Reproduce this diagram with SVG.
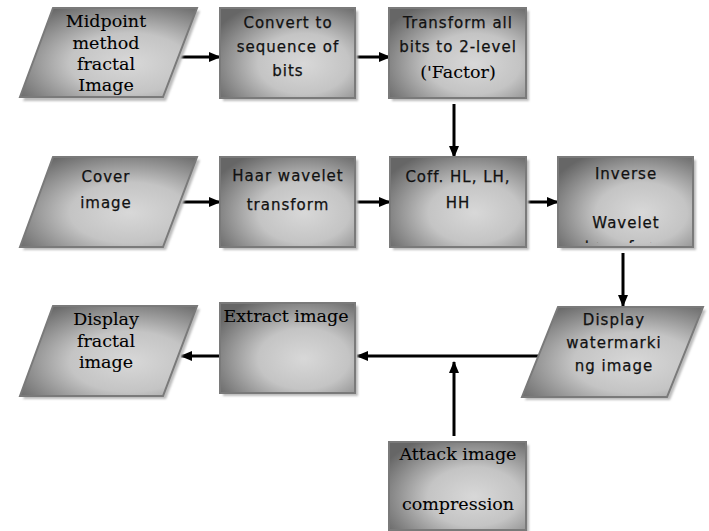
<svg xmlns="http://www.w3.org/2000/svg" width="709" height="531" viewBox="0 0 709 531">
  <defs>
    <radialGradient id="shade" cx="0.62" cy="0.62" r="0.75">
      <stop offset="0" stop-color="#d8d8d8"/>
      <stop offset="0.45" stop-color="#c4c4c4"/>
      <stop offset="1" stop-color="#666666"/>
    </radialGradient>
    <filter id="soft" x="-10%" y="-10%" width="130%" height="130%">
      <feGaussianBlur stdDeviation="1.2"/>
    </filter>
    <marker id="arrow" viewBox="0 0 12 10" refX="11" refY="5" markerWidth="12" markerHeight="10" markerUnits="userSpaceOnUse" orient="auto">
      <path d="M0,0 L12,5 L0,10 Z" fill="#000"/>
    </marker>
    <clipPath id="clipInverse">
      <rect x="558" y="157" width="135" height="86"/>
    </clipPath>
  </defs>
  <style>
    .shadow { fill: #bcbcbc; filter: url(#soft); }
    .shape { fill: url(#shade); stroke: #7a7a7a; stroke-width: 2; }
    .sans { font-family: "DejaVu Sans", "Liberation Sans", sans-serif; font-size: 15px; letter-spacing: 1px; fill: #111; stroke: #111; stroke-width: 0.25; text-anchor: middle; }
    .serif { font-family: "DejaVu Serif", "Liberation Serif", serif; font-size: 17.5px; fill: #000; stroke: #000; stroke-width: 0.1; text-anchor: middle; }
    .link { stroke: #000; stroke-width: 3; fill: none; marker-end: url(#arrow); }
  </style>

  <rect width="709" height="531" fill="#ffffff"/>

  <!-- connectors -->
  <g id="connectors">
    <line class="link" x1="180" y1="57" x2="220" y2="57"/>
    <line class="link" x1="355" y1="57" x2="390" y2="57"/>
    <line class="link" x1="454" y1="104" x2="454" y2="157"/>
    <line class="link" x1="180" y1="202" x2="220" y2="202"/>
    <line class="link" x1="355" y1="202" x2="390" y2="202"/>
    <line class="link" x1="526" y1="202" x2="558" y2="202"/>
    <line class="link" x1="623" y1="253" x2="623" y2="306"/>
    <line class="link" x1="538" y1="356" x2="357" y2="356"/>
    <line class="link" x1="220" y1="356" x2="181" y2="356"/>
    <line class="link" x1="454" y1="436" x2="454" y2="362"/>
  </g>

  <!-- row 1 -->
  <g id="midpoint-fractal">
    <polygon class="shadow" points="56,11 200,11 166,101 23,101"/>
    <polygon class="shape" points="53,8 197,8 163,97 20,97"/>
    <text class="serif" x="106" y="27">Midpoint</text>
    <text class="serif" x="106" y="49">method</text>
    <text class="serif" x="106" y="70">fractal</text>
    <text class="serif" x="106" y="91">Image</text>
  </g>

  <g id="convert-bits">
    <rect class="shadow" x="223" y="11" width="135" height="90"/>
    <rect class="shape" x="220" y="8" width="135" height="90"/>
    <text class="sans" x="288" y="28">Convert to</text>
    <text class="sans" x="288" y="52">sequence of</text>
    <text class="sans" x="288" y="76">bits</text>
  </g>

  <g id="transform-bits">
    <rect class="shadow" x="392" y="11" width="137" height="90"/>
    <rect class="shape" x="389" y="8" width="137" height="90"/>
    <text class="sans" x="458" y="28">Transform all</text>
    <text class="sans" x="458" y="52">bits to 2-level</text>
    <text class="serif" x="458" y="78">('Factor)</text>
  </g>

  <!-- row 2 -->
  <g id="cover-image">
    <polygon class="shadow" points="56,160 200,160 166,250 23,250"/>
    <polygon class="shape" points="53,157 197,157 163,247 20,247"/>
    <text class="sans" x="106" y="182">Cover</text>
    <text class="sans" x="106" y="208">image</text>
  </g>

  <g id="haar-wavelet">
    <rect class="shadow" x="223" y="160" width="135" height="90"/>
    <rect class="shape" x="220" y="157" width="135" height="90"/>
    <text class="sans" x="288" y="181">Haar wavelet</text>
    <text class="sans" x="288" y="210">transform</text>
  </g>

  <g id="coefficients">
    <rect class="shadow" x="393" y="160" width="136" height="90"/>
    <rect class="shape" x="390" y="157" width="136" height="90"/>
    <text class="sans" x="458" y="182">Coff. HL, LH,</text>
    <text class="sans" x="458" y="208">HH</text>
  </g>

  <g id="inverse-wavelet">
    <rect class="shadow" x="561" y="160" width="135" height="90"/>
    <rect class="shape" x="558" y="157" width="135" height="90"/>
    <text class="sans" x="626" y="179">Inverse</text>
    <text class="sans" x="626" y="228">Wavelet</text>
    <text class="sans" x="626" y="252" clip-path="url(#clipInverse)">transform</text>
  </g>

  <!-- row 3 -->
  <g id="display-fractal">
    <polygon class="shadow" points="56,309 200,309 166,399 23,399"/>
    <polygon class="shape" points="53,306 197,306 163,396 20,396"/>
    <text class="serif" x="106" y="325">Display</text>
    <text class="serif" x="106" y="347">fractal</text>
    <text class="serif" x="106" y="368">image</text>
  </g>

  <g id="extract-image">
    <rect class="shadow" x="223" y="306" width="135" height="90"/>
    <rect class="shape" x="220" y="303" width="135" height="90"/>
    <text class="serif" x="286" y="322">Extract image</text>
  </g>

  <g id="display-watermarking">
    <polygon class="shadow" points="561,310 706,310 670,400 525,400"/>
    <polygon class="shape" points="558,307 703,307 667,397 522,397"/>
    <text class="sans" x="614" y="325">Display</text>
    <text class="sans" x="614" y="348">watermarki</text>
    <text class="sans" x="614" y="371">ng image</text>
  </g>

  <!-- bottom -->
  <g id="attack-compression">
    <rect class="shadow" x="392" y="445" width="137" height="88"/>
    <rect class="shape" x="389" y="442" width="137" height="88"/>
    <text class="serif" x="458" y="460">Attack image</text>
    <text class="serif" x="458" y="510">compression</text>
  </g>
</svg>
